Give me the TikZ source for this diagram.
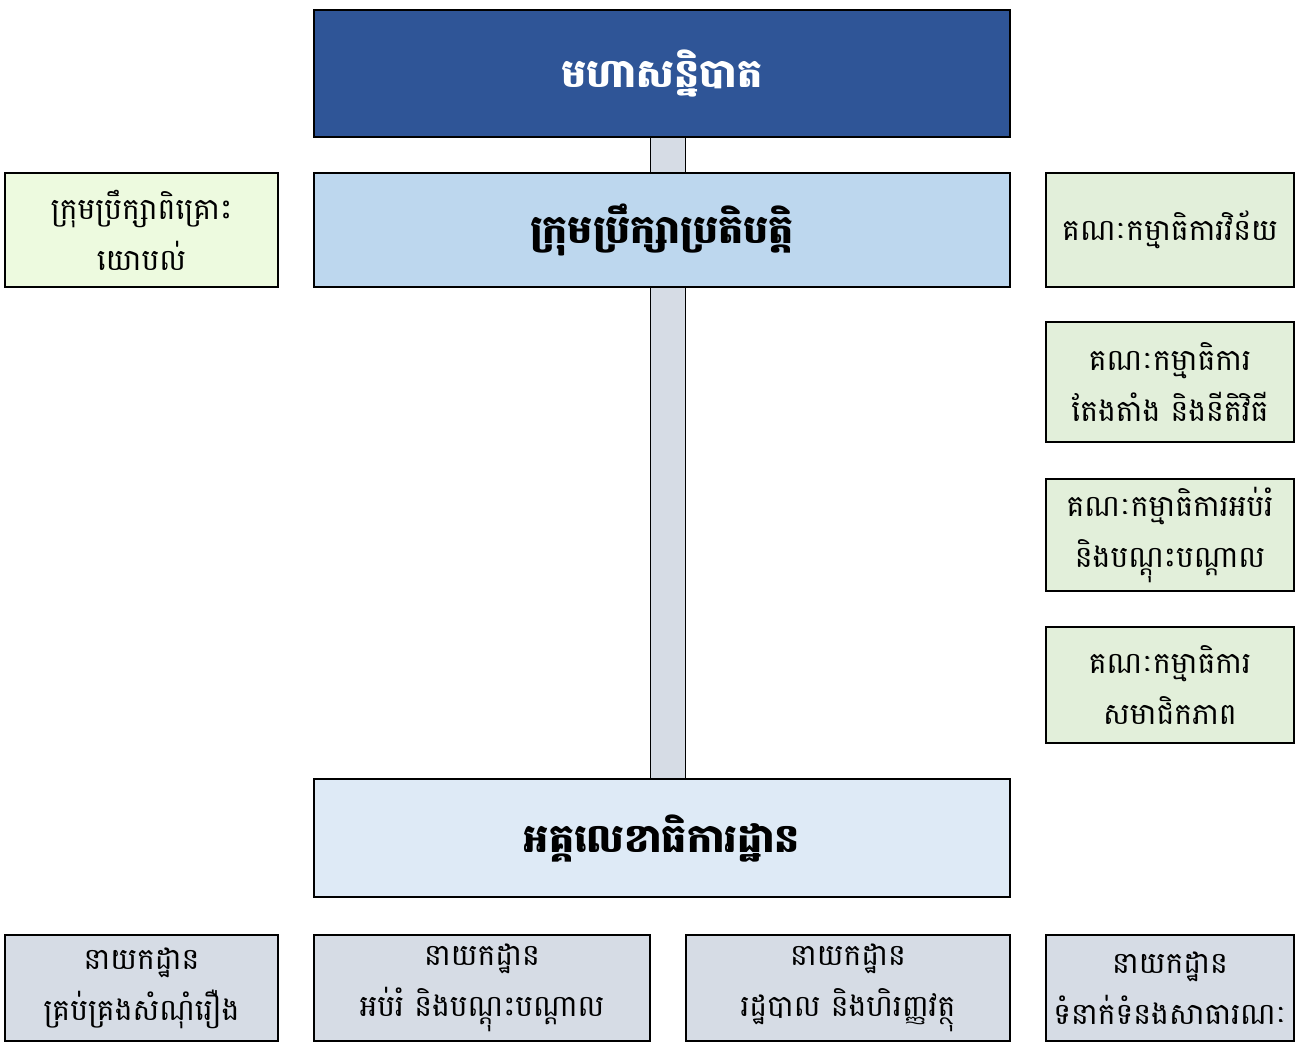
\documentclass[tikz,border=0pt]{standalone}
\usepackage{fontspec}
\usepackage{xcolor}
\usetikzlibrary{positioning, calc, backgrounds}
\newfontfamily\khmer[Script=Khmer]{Battambang}

\definecolor{assemblyblue}{HTML}{2F5597}
\definecolor{execblue}{HTML}{BDD7EE}
\definecolor{secblue}{HTML}{DEEAF6}
\definecolor{advgreen}{HTML}{EDFADF}
\definecolor{commgreen}{HTML}{E2EFDA}
\definecolor{deptgrey}{HTML}{D6DCE5}

\begin{document}
\begin{tikzpicture}[x=0.02cm, y=-0.02cm,
    box/.style={draw=black, line width=1.1pt, inner sep=0pt, align=center,
      font=\khmer\fontsize{17}{29}\selectfont},
    headbox/.style={box, minimum width=13.92cm, font=\khmer\bfseries\fontsize{22.5}{29}\selectfont},
    sidebox/.style={box, minimum width=4.96cm, fill=commgreen},
    deptbox/.style={box, minimum height=2.12cm, fill=deptgrey},
    bar/.style={double=deptgrey, double distance=0.68cm, line width=0.8pt}]
      \useasboundingbox (0,0) rectangle (1298,1046);
      % top level
      \node[headbox, minimum height=2.54cm, fill=assemblyblue, text=white] (assembly) at (662,73.5) {មហាសន្និបាត};
      \node[headbox, minimum height=2.28cm, fill=execblue] (exec) at (662,230) {ក្រុមប្រឹក្សាប្រតិបត្តិ};
      \node[headbox, minimum height=2.36cm, fill=secblue] (secretariat) at (662,838) {អគ្គលេខាធិការដ្ឋាន};
      % advisory and committees
      \node[box, minimum width=5.46cm, minimum height=2.28cm, fill=advgreen] (advisory) at (141.5,230) {ក្រុមប្រឹក្សាពិគ្រោះ\\យោបល់};
      \node[sidebox, minimum height=2.28cm] (discipline) at (1170,230) {គណៈកម្មាធិការវិន័យ};
      \node[sidebox, minimum height=2.40cm] (nomination) at (1170,382) {គណៈកម្មាធិការ\\តែងតាំង និងនីតិវិធី};
      \node[sidebox, minimum height=2.24cm] (education) at (1170,535) {គណៈកម្មាធិការអប់រំ\\និងបណ្តុះបណ្តាល};
      \node[sidebox, minimum height=2.32cm] (membership) at (1170,685) {គណៈកម្មាធិការ\\សមាជិកភាព};
      % departments
      \node[deptbox, minimum width=5.46cm] (cases) at (141.5,988) {នាយកដ្ឋាន\\គ្រប់គ្រងសំណុំរឿង};
      \node[deptbox, minimum width=6.72cm] (training) at (482,988) {នាយកដ្ឋាន\\អប់រំ និងបណ្តុះបណ្តាល};
      \node[deptbox, minimum width=6.48cm] (finance) at (848,988) {នាយកដ្ឋាន\\រដ្ឋបាល និងហិរញ្ញវត្ថុ};
      \node[deptbox, minimum width=4.96cm] (relations) at (1170,988) {នាយកដ្ឋាន\\ទំនាក់ទំនងសាធារណៈ};
      % connecting bar
      \begin{scope}[on background layer]
        \draw[bar] ([xshift=0.12cm]assembly.south) -- ([xshift=0.12cm]exec.north);
        \draw[bar] ([xshift=0.12cm]exec.south) -- ([xshift=0.12cm]secretariat.north);
      \end{scope}
    \end{tikzpicture}
\end{document}
